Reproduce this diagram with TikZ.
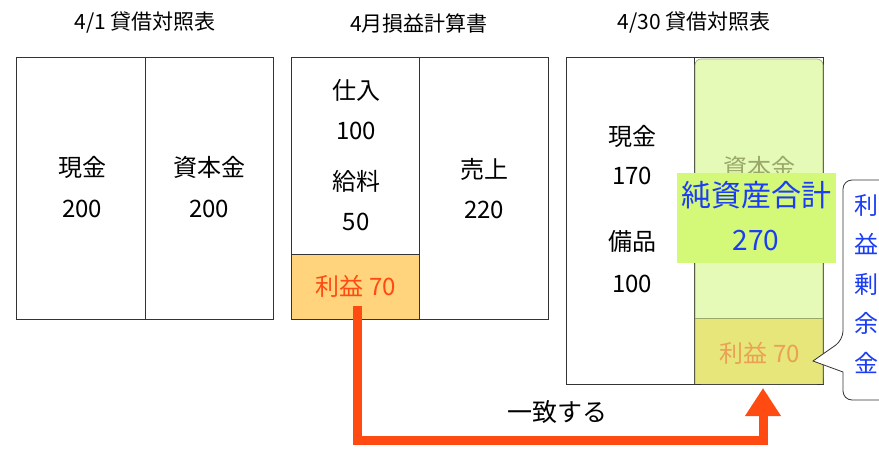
\documentclass[tikz,border=0pt]{standalone}
\usepackage{fontspec}
\setmainfont{Noto Sans CJK JP}
\usetikzlibrary{arrows.meta}
\definecolor{bluet}{HTML}{1A3DF5}
\definecolor{redt}{HTML}{FF4A12}
\definecolor{orfill}{HTML}{FFD47C}
\definecolor{grfill}{HTML}{E2F9AE}
\definecolor{grline}{HTML}{9AA86A}
\definecolor{yefill}{HTML}{E6E67A}
\definecolor{lbfill}{HTML}{D4F878}
\definecolor{fadeor}{HTML}{EBA056}
\tikzset{
  tbox/.style={draw=black!80, line width=0.8pt},
  title/.style={font=\fontsize{21}{24}\selectfont, inner sep=0pt},
  txt/.style={font=\fontsize{24}{28}\selectfont, inner sep=0pt},
}
\begin{document}
\begin{tikzpicture}[x=1pt,y=-1pt]
\useasboundingbox (0,0) rectangle (879,448);
\clip (0,0) rectangle (879,448);
% titles
\node[title] (t1) at (145,23) {4/1 貸借対照表};
\node[title] (t2) at (419,23) {4月損益計算書};
\node[title] (t3) at (694,23) {4/30 貸借対照表};
% box 1
\draw[tbox] (16,57) rectangle (273,319);
\draw[tbox] (145,57) -- (145,319);
\node[txt] (a1) at (82,167) {現金};
\node[txt] (a2) at (82,209) {200};
\node[txt] (a3) at (209,167) {資本金};
\node[txt] (a4) at (209,209) {200};
% box 2
\fill[orfill] (291,254) rectangle (419,319);
\draw[tbox] (291,57) rectangle (548,319);
\draw[tbox] (419,57) -- (419,319);
\draw[tbox] (291,254) -- (419,254);
\node[txt] (b1) at (356,90) {仕入};
\node[txt] (b2) at (356,131) {100};
\node[txt] (b3) at (356,181) {給料};
\node[txt] (b4) at (356,222) {50};
\node[txt] (b5) at (484,169) {売上};
\node[txt] (b6) at (484,210) {220};
\node[txt, text=redt] (profit1) at (356,286) {利益 70};
% box 3
\draw[tbox] (566,57) rectangle (823,384);
\draw[tbox] (694,57) -- (694,384);
\node[txt] (c1) at (632,136) {現金};
\node[txt] (c2) at (632,176) {170};
\node[txt] (c3) at (632,241) {備品};
\node[txt] (c4) at (632,284) {100};
\fill[grfill, opacity=0.9, rounded corners=6pt] (695,59) rectangle (823,384);
\fill[yefill] (695,318) rectangle (823,384);
\draw[grline, line width=0.6pt] (695,318) -- (823,318);
\draw[grline, line width=0.6pt, rounded corners=6pt] (695,384) -- (695,59) -- (823,59) -- (823,384);
\node[txt, text=grline] (c5) at (759,167) {資本金};
\node[txt, text=fadeor] (profit2) at (760,353) {利益 70};
% net assets label
\node[fill=lbfill, minimum width=159pt, minimum height=90pt, inner sep=0pt] (na) at (756.5,218) {};
\node[font=\fontsize{30}{34}\selectfont, text=bluet, inner sep=0pt] (na1) at (756,195) {純資産合計};
\node[font=\fontsize{28}{32}\selectfont, text=bluet, inner sep=0pt] (na2) at (756,241) {270};
% callout
\coordinate (tip) at (813,361);
\draw[black!80, line width=0.8pt, fill=white, rounded corners=9pt]
  (900,180) -- (843,180) -- (843,340) [sharp corners] -- (tip) -- (843,372) [rounded corners=9pt] -- (843,400) -- (900,400);
\node[font=\fontsize{24}{39.5}\selectfont, text=bluet, align=center, inner sep=0pt] (ce) at (866,284) {利\\益\\剰\\余\\金};
% arrow
\coordinate (a0) at (357,306);
\coordinate (ac) at (357,440);
\coordinate (ad) at (763,440);
\coordinate (ae) at (763,388);
\draw[redt, line width=9pt, -{Triangle[length=28pt,width=34pt]}] (a0) -- (ac) -- (ad) -- (ae);
\node[font=\fontsize{25}{28}\selectfont, inner sep=0pt] (match) at (557,412) {一致する};
\end{tikzpicture}
\end{document}
